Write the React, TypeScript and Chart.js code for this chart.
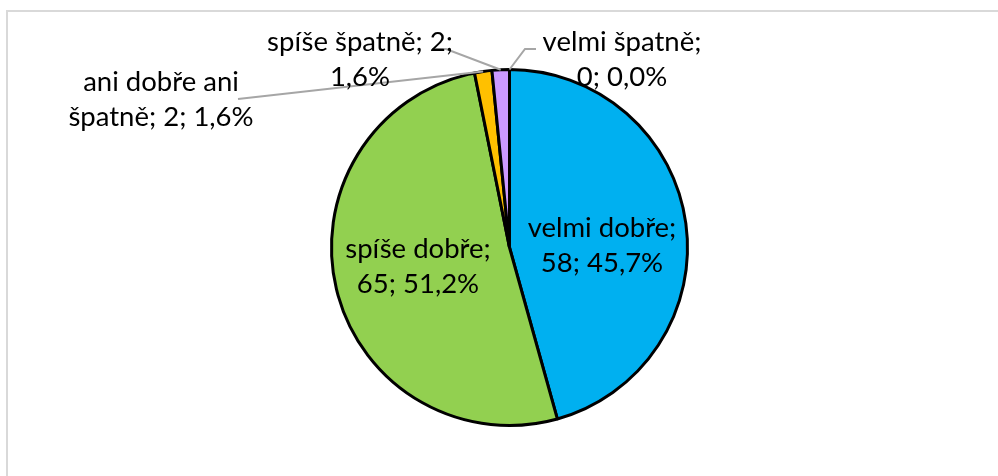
import React, { useEffect, useRef } from "react";
import { Chart, registerables } from "chart.js";

Chart.register(...registerables);

const categories = ["velmi dobře", "spíše dobře", "ani dobře ani špatně", "spíše špatně", "velmi špatně"];
const counts = [58, 65, 2, 2, 0];
const colors = ["#00B0F0", "#92D050", "#FFC000", "#CC99FF", "#8EA9DB"];

// label layout (text placement only): first-line baseline centre, words on first line, leader start points
const labelLayout = [
  { x: 602, y: 237, firstLineWords: 2, leader: null as number[][] | null },
  { x: 418, y: 258, firstLineWords: 2, leader: null as number[][] | null },
  { x: 161, y: 91, firstLineWords: 3, leader: [[238, 99]] },
  { x: 360, y: 51, firstLineWords: 3, leader: [[432, 49], [446, 49]] },
  { x: 622, y: 51, firstLineWords: 2, leader: [[536, 49], [525, 49]] },
];

const FONT = "27.5px Lato";
const LINE_H = 35;

function fmtPct(v: number, total: number) {
  return (Math.round((v / total) * 1000) / 10).toFixed(1).replace(".", ",") + "%";
}

const labelPlugin = {
  id: "excelLabels",
  afterDatasetsDraw(chart: any) {
    const ctx = chart.ctx;
    const meta = chart.getDatasetMeta(0);
    const total = counts.reduce((a, b) => a + b, 0);
    ctx.save();
    // leader lines
    meta.data.forEach((arc: any, i: number) => {
      const lay = labelLayout[i];
      if (!lay.leader) return;
      const p = arc.getProps(["x", "y", "startAngle", "endAngle", "outerRadius"], true);
      const mid = (p.startAngle + p.endAngle) / 2;
      const ex = p.x + Math.cos(mid) * p.outerRadius;
      const ey = p.y + Math.sin(mid) * p.outerRadius;
      ctx.beginPath();
      ctx.strokeStyle = "#A6A6A6";
      ctx.lineWidth = 2;
      ctx.moveTo(lay.leader[0][0], lay.leader[0][1]);
      for (let k = 1; k < lay.leader.length; k++) ctx.lineTo(lay.leader[k][0], lay.leader[k][1]);
      ctx.lineTo(ex, ey);
      ctx.stroke();
    });
    // texts
    ctx.font = FONT;
    ctx.fillStyle = "#000000";
    ctx.textAlign = "center";
    ctx.textBaseline = "alphabetic";
    categories.forEach((cat, i) => {
      const lay = labelLayout[i];
      const words = `${cat}; ${counts[i]}; ${fmtPct(counts[i], total)}`.split(" ");
      const lines = [words.slice(0, lay.firstLineWords).join(" "), words.slice(lay.firstLineWords).join(" ")];
      lines.forEach((ln, k) => ctx.fillText(ln, lay.x, lay.y + k * LINE_H));
    });
    ctx.restore();
  },
};

export default function App() {
  const ref = useRef<HTMLCanvasElement | null>(null);
  useEffect(() => {
    if (!ref.current) return;
    const chart = new Chart(ref.current, {
      type: "pie",
      data: {
        labels: categories,
        datasets: [
          {
            data: counts,
            backgroundColor: colors,
            borderColor: "#000000",
            borderWidth: 3,
          },
        ],
      },
      options: {
        responsive: false,
        animation: false,
        layout: { padding: { top: 68, bottom: 49, left: 330, right: 309 } },
        plugins: {
          legend: { display: false },
          tooltip: { enabled: false },
        },
      },
      plugins: [labelPlugin],
    });
    return () => chart.destroy();
  }, []);
  return (
    <div style={{ position: "fixed", left: 0, top: 0, width: 998, height: 476, background: "#fff" }}>
      <div
        style={{
          position: "absolute",
          left: 6,
          top: 10,
          right: 0,
          bottom: 0,
          borderLeft: "2px solid #D9D9D9",
          borderTop: "2px solid #D9D9D9",
        }}
      />
      <canvas ref={ref} width={998} height={476} style={{ position: "absolute", left: 0, top: 0 }} />
    </div>
  );
}
